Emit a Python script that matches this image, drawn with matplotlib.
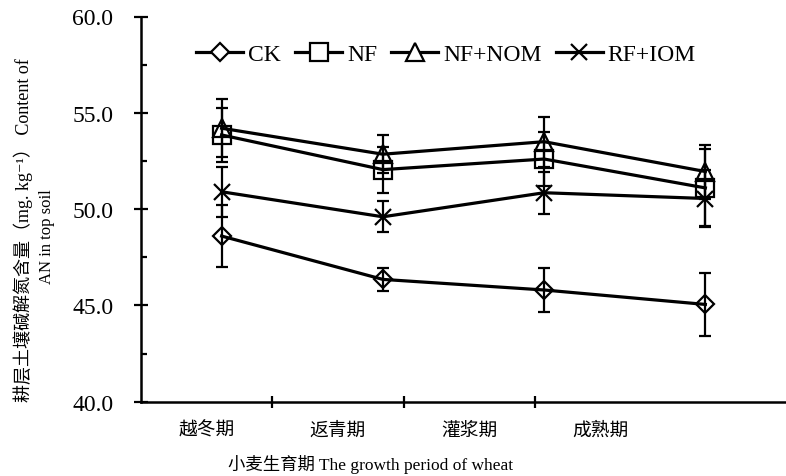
import matplotlib
matplotlib.use("Agg")
import matplotlib.pyplot as plt
from matplotlib.lines import Line2D
from matplotlib.ticker import MultipleLocator, FixedLocator, NullFormatter

# Soil alkali-hydrolysable N in the top layer, by wheat growth stage.
stages = ["越冬期", "返青期", "灌浆期", "成熟期"]
series_names = ["CK", "NF", "NF+NOM", "RF+IOM"]
ck = [48.6, 46.35, 45.8, 45.05]
ck_err = [1.6, 0.6, 1.15, 1.65]
nf = [53.85, 52.05, 52.6, 51.1]
nf_err = [1.4, 1.2, 1.4, 2.0]
nf_nom = [54.2, 52.85, 53.5, 51.95]
nf_nom_err = [1.5, 1.0, 1.3, 1.4]
rf_iom = [50.9, 49.6, 50.85, 50.55]
rf_iom_err = [1.3, 0.8, 1.1, 1.5]

values = [ck, nf, nf_nom, rf_iom]
errors = [ck_err, nf_err, nf_nom_err, rf_iom_err]
markers = [("D", 9.4), ("s", 12.5), ("^", 12.5), ("x", 12)]

SERIF = ["Liberation Serif", "Noto Sans CJK SC", "DejaVu Serif"]
plt.rcParams["font.family"] = SERIF

W, H = 786, 477
fig = plt.figure(figsize=(W / 100, H / 100), dpi=100)

# plot area in pixels
left, right, top, bottom = 141, 786, 17.5, 402.7
ax = fig.add_axes([left / W, 1 - bottom / H, (right - left) / W, (bottom - top) / H])

x = list(range(len(stages)))
handles = []
for name, y, err, (m, ms) in zip(series_names, values, errors, markers):
    ax.errorbar(x, y, yerr=err, fmt="none", ecolor="black", elinewidth=1.6,
                capsize=4.5, capthick=1.6, zorder=2)
    ax.plot(x, y, color="black", lw=2.3, marker=m, ms=ms, mfc="none",
            mec="black", mew=1.6, zorder=3)
    handles.append(Line2D([], [], color="black", lw=2.3, marker=m, ms=ms,
                          mfc="white", mec="black", mew=1.6, label=name))

ax.set_xlim(-0.5, len(stages) - 0.5)
ax.set_ylim(40, 60)
ax.yaxis.set_major_locator(MultipleLocator(5))
ax.yaxis.set_minor_locator(MultipleLocator(2.5))
ax.set_yticklabels([f"{v:.1f}" for v in ax.get_yticks()], fontsize=17)
ax.tick_params(axis="y", which="major", direction="inout", length=10, width=1.6, pad=15)
ax.tick_params(axis="y", which="minor", direction="in", length=4.5, width=1.6)
ax.set_xticks([])
for side in ("top", "right"):
    ax.spines[side].set_visible(False)
for side in ("left", "bottom"):
    ax.spines[side].set_linewidth(1.8)
ax.patch.set_visible(False)

# category ticks/labels sit on a narrower frame than the data
tick_right = 666
tax = fig.add_axes([left / W, 1 - bottom / H, (tick_right - left) / W, 0.001])
tax.set_xlim(-0.5, len(stages) - 0.5)
tax.set_yticks([])
for s in tax.spines.values():
    s.set_visible(False)
tax.patch.set_visible(False)
tax.xaxis.set_major_locator(FixedLocator([i + 0.5 for i in range(len(stages) - 1)]))
tax.xaxis.set_major_formatter(NullFormatter())
tax.xaxis.set_minor_locator(FixedLocator(x))
tax.set_xticklabels(stages, minor=True, fontsize=13.5)
tax.tick_params(axis="x", which="major", direction="inout", length=9, width=1.6)
tax.tick_params(axis="x", which="minor", length=0, pad=14)

fig.text(371 / W, 1 - 465 / H, "小麦生育期 The growth period of wheat",
         ha="center", va="center", fontsize=12.5)

fig.text(23 / W, 1 - 230 / H, "耕层土壤碱解氮含量（mg. kg⁻¹） Content of",
         rotation=90, ha="center", va="center", fontsize=13)
fig.text(47 / W, 1 - 237 / H, "AN in top soil",
         rotation=90, ha="center", va="center", fontsize=12)

fig.legend(handles=handles, loc="center", bbox_to_anchor=(446 / W, 1 - 55 / H),
           ncol=4, frameon=False, fontsize=17, handlelength=2.0,
           handletextpad=0.2, columnspacing=0.6, borderpad=0)

fig.savefig("out.png", dpi=100)
